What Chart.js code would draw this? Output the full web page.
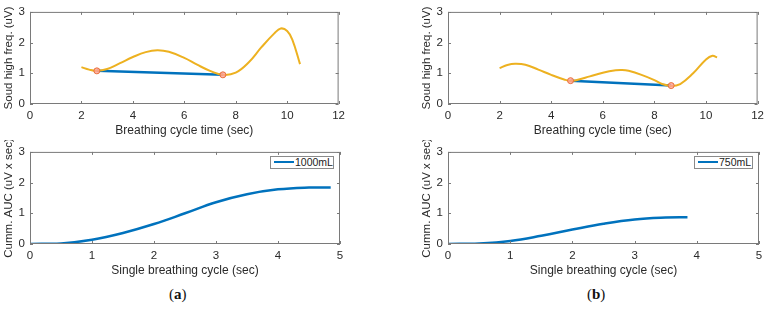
<!DOCTYPE html>
<html>
<head>
<meta charset="utf-8">
<script src="https://cdn.jsdelivr.net/npm/chart.js@4.4.1/dist/chart.umd.min.js"></script>
<style>
  html,body{margin:0;padding:0;background:#fff;}
  body{width:769px;height:311px;position:relative;overflow:hidden;font-family:'Liberation Sans',Arial,sans-serif;}
  .box{position:absolute;}
  .lg{position:absolute;height:11px;border:1px solid #8a8a8a;background:#fff;font-size:10.5px;line-height:11px;color:#222;white-space:nowrap;box-sizing:content-box;}
  .lg i{display:inline-block;width:20px;height:0;border-top:2.5px solid #0072BD;vertical-align:middle;margin:0 1px 0 3px;position:relative;top:-1px;}
  .cap{position:absolute;top:286px;font-family:'Liberation Serif','Times New Roman',serif;font-size:15px;color:#111;}
</style>
</head>
<body>
<div class="box" style="left:0;top:0;width:350px;height:140px"><canvas id="c1"></canvas></div>
<div class="box" style="left:418px;top:0;width:351px;height:140px"><canvas id="c2"></canvas></div>
<div class="box" style="left:0;top:140px;width:350px;height:140px"><canvas id="c3"></canvas></div>
<div class="box" style="left:418px;top:140px;width:351px;height:140px"><canvas id="c4"></canvas></div>
<div class="lg" style="left:270px;top:156px;width:62px"><i></i>1000mL</div>
<div class="lg" style="left:694px;top:156px;width:57px"><i></i>750mL</div>
<div class="cap" style="left:169px">(<b>a</b>)</div>
<div class="cap" style="left:587px">(<b>b</b>)</div>
<script>
// (a) high-frequency sound envelope over the breathing cycle
const aTime  = [2,2.3,2.6,3,3.5,4,4.5,4.95,5.4,6,6.5,7,7.5,8,8.5,9,9.5,9.75,10,10.2,10.5]
const aSound = [1.2,1.12,1.08,1.14,1.33,1.53,1.69,1.75,1.7,1.5,1.28,1.08,0.95,1.02,1.35,1.85,2.3,2.46,2.38,2.1,1.3]
const aMinX  = [2.6,7.5]
const aMinY  = [1.08,0.95]
// (b)
const bTime  = [2,2.3,2.6,3,3.5,4,4.5,4.75,5,5.5,6,6.5,6.75,7,7.5,8,8.3,8.65,9,9.5,10,10.25,10.43]
const bSound = [1.17,1.27,1.31,1.28,1.12,0.95,0.8,0.75,0.78,0.9,1.02,1.1,1.11,1.08,0.95,0.78,0.65,0.59,0.65,1.0,1.45,1.57,1.52]
const bMinX  = [4.75,8.65]
const bMinY  = [0.76,0.6]
// cumulative AUC over a single breathing cycle
const aucTimeA = [0,0.5,1,1.5,2,2.5,3,3.5,4,4.5,4.85]
const auc1000  = [0,0.02,0.14,0.36,0.65,1.0,1.36,1.62,1.78,1.84,1.84]
const aucTimeB = [0,0.5,1,1.5,2,2.5,3,3.5,3.85]
const auc750   = [0,0.02,0.1,0.27,0.47,0.66,0.8,0.86,0.87]

const ORANGE='#EDB120', BLUE='#0072BD', MARK='#E8703A', AX='#7a7a7a', TXT='#2a2a2a'
const F = {family:"'Liberation Sans', Arial, sans-serif", size:11.5}
const pts = (xs,ys)=>xs.map((x,i)=>({x,y:ys[i]}))

// MATLAB style full box with inward ticks
const boxPlugin = {
  id:'box',
  afterDatasetsDraw(ch){
    const {ctx, chartArea:a, scales:{x,y}} = ch
    ctx.save()
    ctx.strokeStyle=AX; ctx.lineWidth=1
    ctx.strokeRect(a.left+0.5,a.top+0.5,a.right-a.left-1,a.bottom-a.top-1)
    ctx.beginPath()
    x.ticks.forEach(t=>{ const p=Math.round(x.getPixelForValue(t.value))+0.5
      ctx.moveTo(p,a.bottom); ctx.lineTo(p,a.bottom-3); ctx.moveTo(p,a.top); ctx.lineTo(p,a.top+3) })
    y.ticks.forEach(t=>{ const p=Math.round(y.getPixelForValue(t.value))+0.5
      ctx.moveTo(a.left,p); ctx.lineTo(a.left+3,p); ctx.moveTo(a.right,p); ctx.lineTo(a.right-3,p) })
    ctx.stroke()
    ctx.restore()
  }
}

function opts(xMax, xStep, xTitle, yTitle, padTop){
  return {
    responsive:true, maintainAspectRatio:false, animation:false,
    layout:{padding:{top:padTop,right:10,left:0,bottom:0}},
    plugins:{legend:{display:false},tooltip:{enabled:false}},
    scales:{
      x:{type:'linear',min:0,max:xMax,border:{display:false},grid:{display:false,drawTicks:false,tickLength:0},
        ticks:{stepSize:xStep,color:TXT,font:F,padding:5,maxRotation:0},
        title:{display:true,text:xTitle,color:TXT,font:{...F,size:12},padding:{top:0,bottom:2}},
        afterFit:s=>{s.height=36}},
      y:{min:0,max:3,border:{display:false},grid:{display:false,drawTicks:false,tickLength:0},
        ticks:{stepSize:1,color:TXT,font:F,padding:5},
        title:{display:true,text:yTitle,color:TXT,font:{...F,size:11.5},padding:{top:2,bottom:0}},
        afterFit:s=>{s.width=30}}
    }
  }
}

function soundChart(id, xs, ys, mx, my){
  new Chart(document.getElementById(id),{
    type:'scatter',
    data:{datasets:[
      {data:pts(mx,my),showLine:true,borderColor:BLUE,borderWidth:2.5,pointRadius:0,order:2},
      {data:pts(xs,ys),showLine:true,borderColor:ORANGE,borderWidth:2,pointRadius:0,tension:0.4,order:1},
      {data:pts(mx,my),showLine:false,pointRadius:3,pointBorderWidth:1,pointBorderColor:MARK,pointBackgroundColor:'rgba(255,160,150,0.8)',order:0}
    ]},
    options:opts(12,2,'Breathing cycle time (sec)','Soud high freq. (uV)',8),
    plugins:[boxPlugin]
  })
}

function aucChart(id, xs, ys){
  new Chart(document.getElementById(id),{
    type:'scatter',
    data:{datasets:[
      {data:pts(xs,ys),showLine:true,borderColor:BLUE,borderWidth:2.5,pointRadius:0,tension:0.4}
    ]},
    options:opts(5,1,'Single breathing cycle (sec)','Cumm. AUC (uV x sec)',11),
    plugins:[boxPlugin]
  })
}

soundChart('c1', aTime, aSound, aMinX, aMinY)
soundChart('c2', bTime, bSound, bMinX, bMinY)
aucChart('c3', aucTimeA, auc1000)
aucChart('c4', aucTimeB, auc750)
</script>
</body>
</html>
